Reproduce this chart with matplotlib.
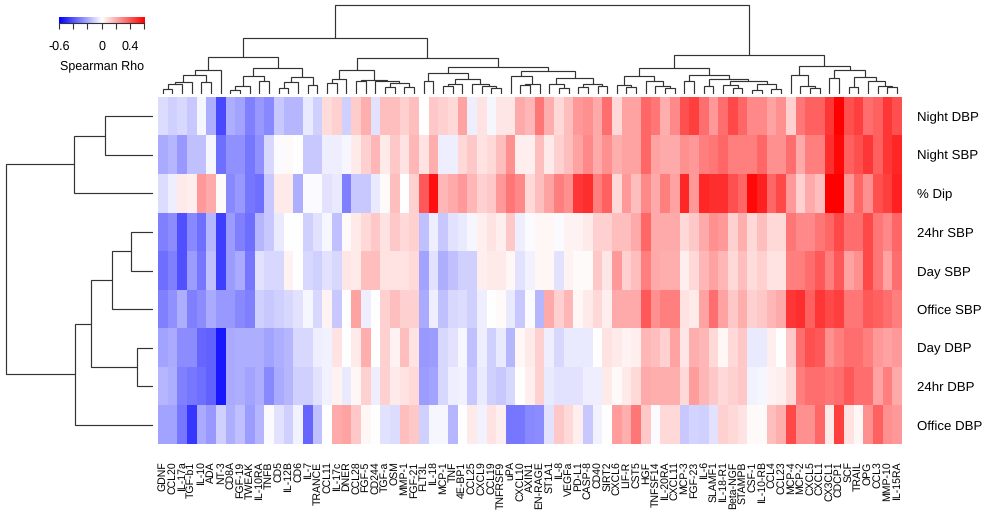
import numpy as np
import matplotlib
matplotlib.use('Agg')
import matplotlib.pyplot as plt

plt.rcParams['font.family'] = ['Liberation Sans', 'DejaVu Sans']
plt.rcParams['text.hinting'] = 'no_hinting'

markers = ['GDNF', 'CCL20', 'IL-17a', 'TGF-b1', 'IL-10', 'ADA', 'NT-3', 'CD8A', 'FGF-19', 'TWEAK',
           'IL-10RA', 'TNFB', 'CD5', 'IL-12B', 'CD6', 'IL-7', 'TRANCE', 'CCL11', 'IL-17c', 'DNER',
           'CCL28', 'FGF-5', 'CD244', 'TGF-a', 'OSM', 'MMP-1', 'FGF-21', 'FLT3L', 'IL-18', 'MCP-1',
           'TNF', '4E-BP1', 'CCL25', 'CXCL9', 'CCL19', 'TNFRSF9', 'uPA', 'CXCL10', 'AXIN1', 'EN-RAGE',
           'ST1A1', 'IL-8', 'VEGFa', 'PD-L1', 'CASP-8', 'CD40', 'SIRT2', 'CXCL6', 'LIF-R', 'CST5',
           'HGF', 'TNFSF14', 'IL-20RA', 'CXCL11', 'MCP-3', 'FGF-23', 'IL-6', 'SLAMF1', 'IL-18-R1', 'Beta-NGF',
           'STAMPB', 'CSF-1', 'IL-10-RB', 'CCL4', 'CCL23', 'MCP-4', 'MCP-2', 'CXCL5', 'CXCL1', 'CX3CL1',
           'CDCP1', 'SCF', 'TRAIL', 'OPG', 'CCL3', 'MMP-10', 'IL-15RA']
measures = ['Night DBP', 'Night SBP', '% Dip', '24hr SBP', 'Day SBP', 'Office SBP', 'Day DBP', '24hr DBP', 'Office DBP']

night_dbp = [-.08, -.11, -.09, -.13, -.02, -.19, -.43, -.19, -.22, -.30, -.24, -.28, -.13, -.17, -.17, -.05, -.11, .08, .11, -.11, .12, .19, -.07, .15, .15, .11,
             .15, 0, .13, .11, .09, .22, -.04, .07, -.02, .06, .06, .20, .17, .32, .19, .09, .15, .24, .26, .20, .34, .09, .22, .22, .36, .32,
             .19, .28, .41, .45, .34, .24, .34, .43, .36, .28, .28, .22, .26, .11, .32, .37, .37, .47, .60, .41, .45, .34, .37, .47, .41]
night_sbp = [-.20, -.17, -.24, -.15, -.15, -.02, -.34, -.26, -.26, -.32, -.26, -.09, -.01, .01, 0, -.13, -.13, -.04, -.04, -.02, .05, .11, .17, .05, .13, .07,
             .17, .07, .19, -.04, -.04, .09, .13, .07, .09, .15, .26, .04, .04, .15, .05, .11, .15, .22, .28, .20, .26, .19, .22, .22, .36, .22,
             .20, .20, .26, .24, .30, .32, .36, .30, .30, .30, .36, .26, .26, .34, .20, .30, .30, .49, .58, .37, .41, .47, .37, .47, .51]
pct_dip = [-.08, -.04, .05, .04, .24, .20, .01, -.28, -.24, -.32, -.34, -.13, .05, .05, -.19, -.01, -.01, -.07, -.05, -.30, -.13, -.13, -.05, .01, .15, 0,
           .11, .39, .56, .17, .20, .24, .17, .11, .13, .24, .32, .28, .09, .15, .22, .30, .26, .47, .49, .30, .37, .09, .24, .15, .28, .20,
           .30, .22, .51, .24, .51, .49, .49, .41, .36, .58, .52, .36, .43, .24, .11, .20, .15, .60, .60, .24, .36, .26, .41, .45, .52]
sbp_24hr = [-.30, -.27, -.41, -.28, -.34, -.17, -.45, -.23, -.30, -.34, -.17, -.13, -.05, 0, 0, -.11, -.07, -.02, -.15, .01, .05, .09, .13, .07, .13, .09,
            .11, -.15, -.04, -.13, -.07, -.05, -.02, .04, .07, .04, .13, -.04, -.01, .02, .02, -.01, .03, .03, .05, .11, .11, .15, .15, .20, .36, .20,
            .20, .20, .09, .13, .20, .26, .24, .11, .19, .09, .15, .09, .09, .32, .28, .28, .32, .36, .43, .34, .34, .43, .32, .28, .36]
day_sbp = [-.34, -.30, -.41, -.23, -.32, -.15, -.45, -.23, -.20, -.32, -.07, -.09, -.09, .03, 0, -.09, -.11, -.07, -.09, .06, .05, .15, .15, .07, .07, .07,
           .09, -.22, -.07, -.19, -.15, -.11, -.11, .04, .05, .05, .02, -.07, -.03, .02, .02, -.07, .03, .01, .01, .13, .06, .24, .11, .15, .30, .20,
           .19, .19, .04, .09, .17, .22, .17, .09, .15, .08, .11, .07, .07, .30, .30, .34, .39, .30, .39, .22, .26, .43, .32, .22, .34]
office_sbp = [-.30, -.26, -.19, -.30, -.27, -.20, -.24, -.24, -.28, -.30, -.11, -.13, -.11, -.09, -.07, -.02, -.09, .03, -.13, 0, .22, -.04, 0, .11, .15, .11,
              .11, -.20, -.04, -.15, -.09, -.08, -.11, -.04, 0, .01, -.05, -.13, -.01, -.17, .20, .11, .17, .02, .05, .09, .04, .20, .20, .20, .39, .26,
              .30, .30, .07, .05, .22, .34, .22, .13, .19, .11, .13, .17, .20, .47, .49, .37, .47, .43, .45, .32, .32, .39, .37, .34, .30]
day_dbp = [-.22, -.20, -.27, -.27, -.36, -.37, -.54, -.20, -.19, -.19, -.19, -.22, -.19, -.17, -.09, -.09, -.04, -.03, .07, 0, .05, .19, 0, .11, .03, .15,
           .07, -.24, -.23, -.09, -.07, -.02, -.15, -.04, -.11, -.05, -.17, .02, .05, .11, -.04, -.09, -.05, -.05, -.05, 0, .07, .05, .03, .04, .17, .15,
           .11, .22, .06, .19, .17, .09, .02, .09, .13, -.05, -.05, .04, 0, .13, .34, .41, .39, .26, .30, .34, .34, .30, .24, .22, .24]
dbp_24hr = [-.17, -.19, -.30, -.32, -.34, -.37, -.54, -.20, -.19, -.22, -.19, -.28, -.20, -.17, -.11, -.11, -.07, -.03, .03, -.05, .02, .11, -.04, .11, .05, .07,
            .09, -.23, -.22, -.09, -.04, -.03, -.13, -.05, -.11, -.13, -.09, 0, .04, .11, -.05, -.07, -.07, -.07, -.04, -.04, .05, .01, .05, .09, .20, .19,
            .19, .19, .09, .23, .17, .13, .09, .11, .13, -.03, -.02, .03, .04, .09, .30, .34, .34, .32, .34, .39, .34, .34, .22, .30, .20]
office_dbp = [-.22, -.22, -.32, -.47, -.20, -.24, -.11, -.19, -.15, -.23, -.17, -.01, -.07, -.11, -.03, -.36, -.15, 0, .20, .22, .13, .02, 0, -.07, -.08, .15,
              .13, -.11, -.02, -.02, -.17, 0, .05, -.03, .07, .04, -.32, -.32, -.28, -.27, -.07, .13, .09, .04, -.13, -.03, 0, .23, .19, .32, .13, -.01,
              .09, .09, -.13, -.10, -.11, -.07, .11, .09, .07, .01, .01, .15, .19, .43, .26, .26, .36, .05, .45, .07, .02, .26, .37, .26, .24]
colorbar_ticks = [-0.6, -0.4, -0.2, 0, 0.2, 0.4, 0.6]
colorbar_labels = ['-0.6', '', '', '0', '', '0.4', '']

# merge trees: (distance, left, right), a plain int is a leaf
left_a = (36.7, (24.3, (18.7, (12.3, (10.3, (5, 0, 1), 2), 3), (12, 4, 5)), 6),
          (26.3, (18.3, (8.3, (3.7, 7, 8), 9), (12.7, 10, 11)),
           (16.7, (11.7, (6, 12, 13), 14), (9.3, 15, 16))))
left_b1 = (23.7, (15.3, (11, 17, 18), 19),
           (14, (12.7, 20, 21), (13.3, 22, (11, (6.7, 23, 24), (6.7, 25, 26)))))
left_b2 = (26.7, (21, (13.3, 27, 28),
                  (15, (10.3, (7.7, 29, 30), 31), (9.7, 32, (8.3, 33, (6, 34, 35))))),
           (22.7, (18.3, 36, (10.3, (9.3, 37, 38), 39)),
            (15.7, (10.3, 40, (6, 41, 42)), (10.3, (7, 43, 44), (7.7, 45, 46)))))
right_a = (26, (18.3, (9.3, 47, (7, 48, 49)), (12.7, 50, (8.3, 51, (6, 52, 53)))),
           (19.3, (12.7, 54, 55),
            (15.3, (8.3, 56, 57), (12.7, (9.3, 58, (6, 59, 60)), (10.3, (4.3, 61, 62), (5, 63, 64))))))
right_b = (27.7, (19.3, 65, (8.3, 66, (6, 67, 68))),
           (24.3, (16, 69, 70), (16.7, (6.7, 71, 72), (13.3, 73, (8.3, 74, (7, 75, 76))))))
col_tree = (89.3, (55.7, left_a, (36, left_b1, left_b2)), (39, right_a, right_b))
row_tree = (147, (79, (48, 0, 1), 2),
            (77.7, (62, (41, (22.3, 3, 4), 5), (16.3, 6, 7)), 8))

W, H = 988, 513


def box(left, top, right, bottom):
    return [left / W, 1 - bottom / H, (right - left) / W, (bottom - top) / H]


def draw_tree(ax, node, horizontal):
    # returns leaf position and distance of the node
    if isinstance(node, int):
        return node + 0.5, 0
    dist, a, b = node
    pa, da = draw_tree(ax, a, horizontal)
    pb, db = draw_tree(ax, b, horizontal)
    xs, ys = [pa, pa, pb, pb], [da, dist, dist, db]
    if horizontal:
        xs, ys = ys, xs
    ax.plot(xs, ys, color='#333333', lw=0.85, solid_joinstyle='miter', solid_capstyle='butt')
    return (pa + pb) / 2, dist


fig = plt.figure(figsize=(W / 100, H / 100), dpi=100)

data = np.array([night_dbp, night_sbp, pct_dip, sbp_24hr, day_sbp, office_sbp, day_dbp, dbp_24hr, office_dbp])

ax = fig.add_axes(box(158, 97, 901.8, 444))
ax.imshow(data, cmap='bwr', vmin=-0.6, vmax=0.6, aspect='auto', interpolation='nearest',
          extent=(0, len(markers), len(measures), 0))
ax.set_xticks(np.arange(len(markers)) + 0.5)
ax.set_xticklabels(markers, rotation=90, fontsize=7.6, va='top', ha='center')
ax.set_yticks(np.arange(len(measures)) + 0.5)
ax.set_yticklabels(measures, fontsize=9.5)
ax.yaxis.tick_right()
ax.tick_params(axis='x', length=0, pad=12.5)
ax.tick_params(axis='y', length=0, pad=10.8)
for s in ax.spines.values():
    s.set_visible(False)

top = fig.add_axes(box(158, 0, 901.8, 94))
draw_tree(top, col_tree, False)
top.set_xlim(0, len(markers))
top.set_ylim(0, 94)
top.axis('off')

side = fig.add_axes(box(0, 97, 153, 444))
draw_tree(side, row_tree, True)
side.set_xlim(153, 0)
side.set_ylim(len(measures), 0)
side.axis('off')

cax = fig.add_axes(box(59, 16.7, 144.3, 22.7))
gradient = np.linspace(-0.6, 0.6, 256).reshape(1, -1)
cax.imshow(gradient, cmap='bwr', vmin=-0.6, vmax=0.6, aspect='auto', extent=(-0.6, 0.6, 0, 1))
cax.set_yticks([])
cax.set_xticks(colorbar_ticks)
cax.set_xticklabels(colorbar_labels, fontsize=9)
cax.tick_params(axis='x', length=4.5, width=0.8, color='#333333', pad=8)
cax.set_xlabel('Spearman Rho', fontsize=9, labelpad=6)
for name, s in cax.spines.items():
    s.set_visible(name == 'bottom')
    s.set_linewidth(0.8)
    s.set_color('#333333')

fig.savefig('out.png', dpi=100)
